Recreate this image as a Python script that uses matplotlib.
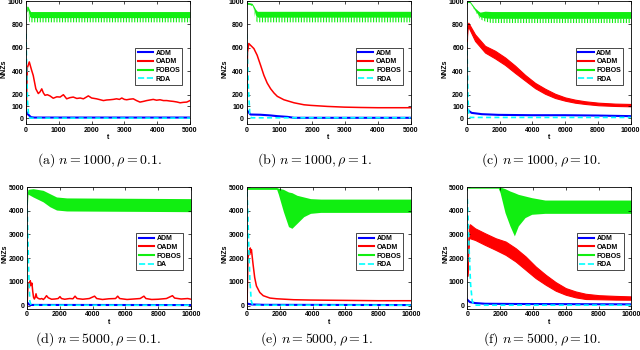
import matplotlib
matplotlib.use('Agg')
import matplotlib.pyplot as plt
from matplotlib.lines import Line2D

plt.rcParams['font.family'] = ['Liberation Sans', 'DejaVu Sans']
plt.rcParams['font.weight'] = 'bold'
plt.rcParams['mathtext.fontset'] = 'cm'
plt.rcParams['hatch.linewidth'] = 0.8

BLUE = '#0000ff'
RED = '#ff0000'
GREEN = '#11ee11'
CYAN = '#00ffff'

# ---- (a) n=1000, rho=0.1 ----
adm_a_t = [0, 50, 100, 150, 250, 5000]
adm_a = [60, 35, 22, 8, 5, 5]
rda_a_t = [0, 20, 50, 80, 120, 5000]
rda_a = [720, 420, 130, 30, 0, 0]
oadm_a_t = [0, 40, 100, 170, 220, 300, 375, 430, 480, 530, 580, 650, 730, 830, 940, 1040,
            1140, 1240, 1340, 1440, 1550, 1650, 1750, 1830, 1900, 2000, 2150, 2250, 2360,
            2460, 2560, 2660, 2760, 2850, 2920, 3000, 3070, 3170, 3270, 3370, 3475, 3580,
            3680, 3780, 3880, 3980, 4085, 4190, 4290, 4390, 4490, 4600, 4700, 4800, 4900, 5000]
oadm_a = [0, 430, 480, 410, 365, 250, 210, 225, 250, 215, 195, 200, 190, 170, 182, 180,
          200, 165, 175, 180, 168, 172, 165, 178, 190, 172, 165, 158, 150,
          155, 157, 160, 165, 160, 172, 160, 157, 162, 165, 150, 137, 143,
          150, 155, 160, 153, 157, 150, 150, 146, 143, 138, 131, 135, 137, 150]
fobos_a_t = [0, 20, 60, 100, 140, 180, 5000]
fobos_a_hi = [0, 955, 955, 930, 910, 910, 910]
fobos_a_lo = [0, 905, 925, 870, 860, 858, 858]
fobos_a_min = [0, 900, 920, 820, 818, 818, 818]

# ---- (b) n=1000, rho=1 ----
adm_b_t = [0, 20, 120, 430, 735, 940, 1245, 1450, 5000]
adm_b = [75, 66, 31, 29, 23, 17, 11, 3, 3]
rda_b_t = [0, 30, 60, 100, 150, 5000]
rda_b = [720, 500, 250, 40, 3, 3]
oadm_b_t = [0, 30, 70, 120, 225, 325, 430, 530, 630, 735, 840, 940, 1140, 1450, 1755,
            1960, 2470, 2980, 3490, 4000, 5000]
oadm_b = [0, 560, 637, 623, 594, 537, 451, 366, 300, 251, 214, 186, 157, 131, 114,
          109, 100, 94, 91, 89, 89]
fobos_b_t = [0, 15, 170, 225, 275, 330, 5000]
fobos_b_hi = [0, 990, 980, 955, 930, 912, 912]
fobos_b_lo = [0, 975, 965, 930, 880, 862, 862]
fobos_b_min = [0, 970, 960, 925, 830, 818, 818]

# ---- (c) n=1000, rho=10 ----
adm_c_t = [0, 60, 300, 915, 1930, 3960, 6000, 8030, 10000]
adm_c = [90, 68, 45, 34, 28, 25, 25, 22, 17]
rda_c_t = [0, 40, 80, 130, 200, 10000]
rda_c = [720, 450, 150, 30, 6, 6]
oadm_c_t = [0, 40, 100, 510, 1120, 1730, 2340, 2950, 3560, 4170, 4780, 5390, 6000,
            6600, 7220, 8030, 9050, 10000]
oadm_c_hi = [650, 790, 815, 715, 617, 575, 518, 448, 369, 301, 251, 208, 177,
             158, 144, 132, 124, 121]
oadm_c_lo = [600, 760, 780, 659, 560, 510, 454, 386, 321, 256, 208, 172, 149,
             132, 121, 110, 104, 101]
fobos_c_t = [0, 200, 510, 710, 815, 1120, 1500, 10000]
fobos_c_hi = [1000, 997, 940, 915, 905, 913, 910, 910]
fobos_c_lo = [990, 985, 920, 880, 865, 856, 852, 852]
fobos_c_min = [990, 985, 915, 870, 845, 825, 812, 812]

# ---- (d) n=5000, rho=0.1 ----
adm_d_t = [0, 100, 200, 10000]
adm_d = [150, 60, 30, 25]
rda_d_t = [0, 50, 100, 170, 250, 10000]
rda_d = [4450, 3000, 1500, 200, 20, 20]
oadm_d_t = [0, 50, 100, 150, 200, 250, 300, 350, 400, 450, 500, 550, 600, 700, 800, 900,
            1000, 1100, 1190, 1300, 1500, 1700, 1900, 2010, 2100, 2300, 2600, 2800, 2930,
            3050, 3400, 3800, 4120, 4250, 4600, 5000, 5400, 5530, 5650, 6100, 6500, 6900,
            7130, 7250, 7600, 8000, 8500, 8870, 9000, 9400, 9800, 10000]
oadm_d = [0, 700, 950, 800, 1050, 850, 950, 600, 350, 280, 350, 500, 350, 300, 280, 300,
          260, 330, 420, 330, 270, 280, 300, 380, 300, 270, 300, 290, 400,
          300, 270, 300, 400, 300, 260, 290, 300, 400, 300, 260, 280, 300,
          400, 300, 260, 270, 300, 420, 320, 280, 300, 270]
fobos_d_t = [0, 30, 60, 370, 980, 1390, 1800, 2420, 10000]
fobos_d_hi = [500, 4800, 4900, 4930, 4860, 4720, 4580, 4540, 4510]
fobos_d_lo = [450, 4300, 4700, 4580, 4375, 4170, 4030, 3990, 3960]

# ---- (e) n=5000, rho=1 ----
adm_e_t = [0, 100, 300, 1000, 10000]
adm_e = [100, 70, 50, 35, 25]
rda_e_t = [0, 60, 120, 180, 260, 350, 10000]
rda_e = [4800, 3700, 2200, 1000, 200, 20, 20]
oadm_e_t = [0, 60, 120, 160, 200, 240, 270, 370, 470, 575, 780, 990, 1400, 1810, 2840,
            3870, 5930, 7980, 10000]
oadm_e = [0, 2010, 2290, 2150, 2430, 2250, 2360, 1740, 1180, 830, 555, 420, 320, 290, 250,
          236, 222, 208, 208]
fobos_e_t = [0, 20, 1810, 1910, 2220, 2530, 2740, 3050, 3460, 3870, 4490, 10000]
fobos_e_hi = [0, 4980, 4980, 4950, 4900, 4790, 4760, 4650, 4580, 4510, 4490, 4490]
fobos_e_lo = [0, 4900, 4900, 4700, 3960, 3330, 3260, 3470, 3750, 3890, 3930, 3930]

# ---- (f) n=5000, rho=10 ----
adm_f_t = [0, 160, 470, 1080, 3000, 10000]
adm_f = [250, 150, 110, 80, 70, 55]
rda_f_t = [0, 60, 120, 200, 300, 400, 10000]
rda_f = [4500, 3500, 2200, 900, 200, 20, 20]
oadm_f_t = [0, 100, 160, 470, 1080, 1730, 2340, 2950, 3560, 4170, 4780, 5390, 6000,
            6600, 7220, 8030, 9050, 10000]
oadm_f_hi = [1300, 3350, 3430, 3260, 3050, 2840, 2700, 2420, 2070, 1650, 1300, 990, 740,
             600, 500, 440, 410, 390]
oadm_f_lo = [1250, 2900, 2840, 2770, 2560, 2350, 2140, 1860, 1510, 1160, 880, 630, 460,
             350, 280, 270, 255, 250]
fobos_f_t = [0, 20, 1890, 2000, 2300, 2600, 2870, 3110, 3520, 3930, 4740, 10000]
fobos_f_hi = [0, 5000, 5000, 5000, 4930, 4830, 4760, 4690, 4620, 4550, 4450, 4450]
fobos_f_lo = [0, 4950, 4950, 4760, 3920, 3360, 2940, 3360, 3710, 3850, 3890, 3890]

captions = [r'$\mathrm{(a)}\ n = 1000, \rho = 0.1.$',
            r'$\mathrm{(b)}\ n = 1000, \rho = 1.$',
            r'$\mathrm{(c)}\ n = 1000, \rho = 10.$',
            r'$\mathrm{(d)}\ n = 5000, \rho = 0.1.$',
            r'$\mathrm{(e)}\ n = 5000, \rho = 1.$',
            r'$\mathrm{(f)}\ n = 5000, \rho = 10.$']

fig = plt.figure(figsize=(6.4, 3.5), dpi=100)


def setup(ax, xmax, xstep, ymin, ymax, yticks, last_label='RDA'):
    ax.set_xlim(0, xmax)
    ax.set_ylim(ymin, ymax)
    ax.set_xticks(range(0, xmax + 1, xstep))
    ax.set_yticks(yticks)
    ax.tick_params(direction='in', top=True, right=True, length=2, width=0.5,
                   labelsize=5, pad=2)
    for s in ax.spines.values():
        s.set_linewidth(0.6)
    ax.set_xlabel('t', fontsize=5, fontweight='bold')
    ax.set_ylabel('NNZs', fontsize=5, fontweight='bold')
    ax.xaxis.set_label_coords(0.5, -0.085)
    ax.yaxis.set_label_coords(-0.11, 0.45)
    handles = [Line2D([], [], color=BLUE, lw=1.5),
               Line2D([], [], color=RED, lw=1.5),
               Line2D([], [], color=GREEN, lw=1.5),
               Line2D([], [], color=CYAN, lw=1.2, ls='--')]
    leg = ax.legend(handles, ['ADM', 'OADM', 'FOBOS', last_label], loc='upper right',
                    bbox_to_anchor=(0.975, 0.65), fontsize=5, handlelength=2.2,
                    handletextpad=0.4, labelspacing=0.25, borderpad=0.3,
                    fancybox=False, framealpha=1, edgecolor='black')
    leg.get_frame().set_linewidth(0.5)


def draw(ax, fobos, oadm, adm, rda, teeth=None, band=False):
    ft, fhi, flo = fobos
    if teeth is not None:
        ax.fill_between(ft, teeth, flo, facecolor='white', edgecolor=GREEN,
                        hatch='||||||', linewidth=0)
    ax.fill_between(ft, flo, fhi, color=GREEN, linewidth=0)
    if band:
        ot, ohi, olo = oadm
        ax.fill_between(ot, olo, ohi, color=RED, linewidth=0.8)
    else:
        ax.plot(oadm[0], oadm[1], color=RED, lw=1.1)
    ax.plot(adm[0], adm[1], color=BLUE, lw=1.5)
    ax.plot(rda[0], rda[1], color=CYAN, lw=1.2, ls='--', dashes=(3, 2))


w = 164 / 640
top_b, top_h = 1 - 124 / 350, 123 / 350
bot_b, bot_h = 1 - 308.5 / 350, 121.5 / 350
ticks_small = [0, 100, 200, 400, 600, 800, 1000]
ticks_big = [0, 1000, 2000, 3000, 4000, 5000]

ax = fig.add_axes([26 / 640, top_b, w, top_h])
draw(ax, (fobos_a_t, fobos_a_hi, fobos_a_lo), (oadm_a_t, oadm_a), (adm_a_t, adm_a),
     (rda_a_t, rda_a), teeth=fobos_a_min)
setup(ax, 5000, 1000, -50, 1000, ticks_small)

ax = fig.add_axes([246.5 / 640, top_b, w, top_h])
draw(ax, (fobos_b_t, fobos_b_hi, fobos_b_lo), (oadm_b_t, oadm_b), (adm_b_t, adm_b),
     (rda_b_t, rda_b), teeth=fobos_b_min)
setup(ax, 5000, 1000, -50, 1000, ticks_small)

ax = fig.add_axes([466.7 / 640, top_b, w, top_h])
draw(ax, (fobos_c_t, fobos_c_hi, fobos_c_lo), (oadm_c_t, oadm_c_hi, oadm_c_lo),
     (adm_c_t, adm_c), (rda_c_t, rda_c), teeth=fobos_c_min, band=True)
setup(ax, 10000, 2000, -50, 1000, ticks_small)

ax = fig.add_axes([27 / 640, bot_b, w, bot_h])
draw(ax, (fobos_d_t, fobos_d_hi, fobos_d_lo), (oadm_d_t, oadm_d), (adm_d_t, adm_d),
     (rda_d_t, rda_d))
setup(ax, 10000, 2000, -120, 5000, ticks_big, last_label='DA')

ax = fig.add_axes([247 / 640, bot_b, w, bot_h])
draw(ax, (fobos_e_t, fobos_e_hi, fobos_e_lo), (oadm_e_t, oadm_e), (adm_e_t, adm_e),
     (rda_e_t, rda_e))
setup(ax, 10000, 2000, -120, 5000, ticks_big)

ax = fig.add_axes([467.3 / 640, bot_b, w, bot_h])
draw(ax, (fobos_f_t, fobos_f_hi, fobos_f_lo), (oadm_f_t, oadm_f_hi, oadm_f_lo),
     (adm_f_t, adm_f), (rda_f_t, rda_f), band=True)
setup(ax, 10000, 2000, -120, 5000, ticks_big)

cap_x = [100, 315, 541, 98, 317, 542]
cap_y = [160, 160, 160, 339, 339, 339]
for cx, cy, txt in zip(cap_x, cap_y, captions):
    fig.text(cx / 640, 1 - cy / 350, txt, ha='center', va='center', fontsize=10)

fig.savefig('out.png', dpi=100)
